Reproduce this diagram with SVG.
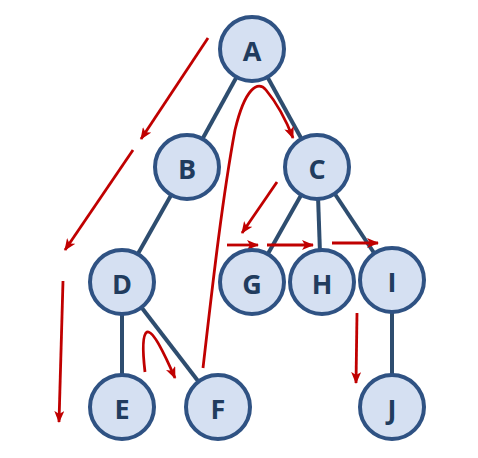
<svg xmlns="http://www.w3.org/2000/svg" width="478" height="458" viewBox="0 0 478 458">
<style>
.edge{stroke:#2e4d6f;stroke-width:4;fill:none}
.node circle{fill:#d5e0f2;stroke:#2f5283;stroke-width:4}
.node text{font-family:"Open Sans","Liberation Sans",sans-serif;font-weight:bold;font-size:27px;fill:#213c5e;text-anchor:middle;dominant-baseline:central}
.red{stroke:#c00000;stroke-width:2.8;fill:none;marker-end:url(#ah)}
</style>
<defs>
<marker id="ah" viewBox="0 0 12 10" refX="11" refY="5" markerWidth="12" markerHeight="10" markerUnits="userSpaceOnUse" orient="auto">
<path d="M0,0 L12,5 L0,10 L3,5 Z" fill="#c00000"/>
</marker>
</defs>
<rect width="478" height="458" fill="#ffffff"/>
<g id="connectors">
<line class="edge" x1="252" y1="49" x2="187" y2="167"/>
<line class="edge" x1="252" y1="49" x2="317" y2="167"/>
<line class="edge" x1="187" y1="167" x2="122" y2="282"/>
<line class="edge" x1="317" y1="167" x2="252" y2="282"/>
<line class="edge" x1="317" y1="167" x2="321" y2="282"/>
<line class="edge" x1="317" y1="167" x2="392" y2="280"/>
<line class="edge" x1="122" y1="282" x2="122" y2="407"/>
<line class="edge" x1="122" y1="282" x2="218" y2="407"/>
<line class="edge" x1="392" y1="280" x2="392" y2="407"/>
</g>
<g id="traversal">
<line class="red" x1="208" y1="38" x2="141" y2="139"/>
<line class="red" x1="133" y1="150" x2="65" y2="250"/>
<line class="red" x1="63" y1="281" x2="59" y2="422"/>
<path class="red" d="M145,372 C143,355 142,335 147,332 C153,330 165,355 175,378"/>
<path class="red" d="M203,368 C212,290 222,200 235,130 C245,88 258,80 266,90 C276,102 286,120 293,138"/>
<line class="red" x1="277" y1="182" x2="242" y2="233"/>
<line class="red" x1="227" y1="245" x2="258" y2="245"/>
<line class="red" x1="267" y1="245" x2="313" y2="245"/>
<line class="red" x1="332" y1="243" x2="378" y2="243"/>
<line class="red" x1="357" y1="313" x2="356" y2="383"/>
</g>
<g id="node-A" class="node"><circle cx="252" cy="49" r="32"/><text x="252" y="50">A</text></g>
<g id="node-B" class="node"><circle cx="187" cy="167" r="32"/><text x="187" y="168">B</text></g>
<g id="node-C" class="node"><circle cx="317" cy="167" r="32"/><text x="317" y="168">C</text></g>
<g id="node-D" class="node"><circle cx="122" cy="282" r="32"/><text x="122" y="283">D</text></g>
<g id="node-G" class="node"><circle cx="252" cy="282" r="32"/><text x="252" y="283">G</text></g>
<g id="node-H" class="node"><circle cx="322" cy="282" r="32"/><text x="322" y="283">H</text></g>
<g id="node-I" class="node"><circle cx="392" cy="280" r="32"/><text x="392" y="281">I</text></g>
<g id="node-E" class="node"><circle cx="122" cy="407" r="32"/><text x="122" y="408">E</text></g>
<g id="node-F" class="node"><circle cx="218" cy="407" r="32"/><text x="218" y="408">F</text></g>
<g id="node-J" class="node"><circle cx="392" cy="407" r="32"/><text x="392" y="408">J</text></g>
</svg>
